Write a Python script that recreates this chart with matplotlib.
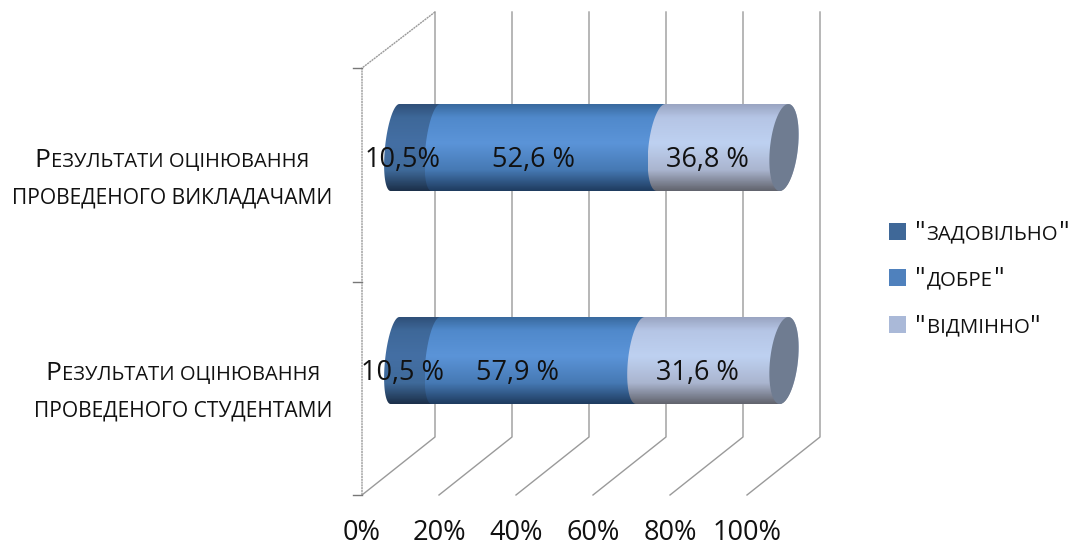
#!/usr/bin/env python3
# -*- coding: utf-8 -*-
import matplotlib
matplotlib.use('Agg')
import matplotlib.pyplot as plt
import numpy as np
from matplotlib.colors import LinearSegmentedColormap
from matplotlib.patches import PathPatch, Rectangle
from matplotlib.path import Path

plt.rcParams['font.family'] = ['Open Sans', 'DejaVu Sans']

# Data (bar lengths as drawn, labels as printed - they are swapped in the original)
ticks = [0, 20, 40, 60, 80, 100]
tick_labels = ["0%", "20%", "40%", "60%", "80%", "100%"]
series_names = ['ЗАДОВІЛЬНО', 'ДОБРЕ', 'ВІДМІННО']
top_values = [10.5, 57.9, 31.6]
bottom_values = [10.5, 52.6, 36.8]
top_labels = ["10,5%", "52,6 %", "36,8 %"]
bottom_labels = ["10,5 %", "57,9 %", "31,6 %"]

# Layout, everything below is in image pixels
W, H = 1073, 547
X0, PX = 362, 3.85
DEPTH_X, FLOOR_Y, BACK_FLOOR_Y, FRONT_TOP, BACK_TOP = 73, 495, 437, 68, 12
GRID = '#9a9a9a'

seg_stops = [
    ['#2f5079', '#3e6899', '#446fa4', '#3f6a9a', '#1c304a'],
    ['#396a9f', '#5089cb', '#5b94d8', '#4679b4', '#1f3c60'],
    ['#9aa5c2', '#b5c5e5', '#bed1f1', '#aab5cf', '#62646e'],
]
stop_pos = [0, 0.15, 0.45, 0.76, 1]
cap_color = '#6f7c91'
legend_colors = ['#3f6898', '#4f81bd', '#aab9d8']


def X(px):
    return (px - X0) / PX


fig = plt.figure(figsize=(W / 100, H / 100), dpi=100)
ax = fig.add_axes([0, 0, 1, 1])
ax.axis('off')

# walls and floor lines
for t in ticks:
    xb = X0 + DEPTH_X + t * PX
    xf = X0 + t * PX
    ax.plot([X(xb), X(xb), X(xf)], [BACK_TOP, BACK_FLOOR_Y, FLOOR_Y], color=GRID, lw=1, zorder=1)
ax.plot([X(X0 + DEPTH_X), X(X0), X(X0)], [BACK_TOP, FRONT_TOP, FLOOR_Y], color=GRID, lw=1, ls=(0, (1.5, 0.5)), zorder=1)
for y in [FRONT_TOP, 282, FLOOR_Y]:
    ax.plot([X(X0 - 9), X(X0)], [y, y], color='#777777', lw=1, zorder=1)


def arc_points(v, cy, half, start, stop):
    # sheared ellipse outline at percent v of the cylinder
    cx = 395 + 3.89 * v
    a = 10 + 0.04 * v
    t = np.linspace(start, stop, 60)
    yy = cy + half * np.sin(t)
    xx = cx + a * np.cos(t) - 0.1 * (yy - cy)
    return xx, yy


def draw_cylinder(values, cy, half=43.5):
    edges = np.cumsum([0] + values)
    edges[-1] = 100
    for i in range(3):
        # left edge runs bottom to top, right edge top to bottom
        lx, ly = arc_points(edges[i], cy, half, np.pi / 2, 3 * np.pi / 2)
        rx, ry = arc_points(edges[i + 1], cy, half, -np.pi / 2, np.pi / 2)
        xs = np.r_[lx, rx]
        ys = np.r_[ly, ry]
        verts = np.c_[X(xs), ys]
        patch = PathPatch(Path(np.r_[verts, verts[:1]]), fc='none', ec='none', zorder=3 + i)
        ax.add_patch(patch)
        cmap = LinearSegmentedColormap.from_list('s%d' % i, list(zip(stop_pos, seg_stops[i])))
        im = ax.imshow(np.linspace(0, 1, 120).reshape(-1, 1), cmap=cmap, aspect='auto', vmin=0, vmax=1,
                       extent=[X(xs.min()), X(xs.max()), cy + half, cy - half], zorder=3 + i)
        im.set_clip_path(patch)
    # end cap
    cx, cyy = arc_points(100, cy, half, 0, 2 * np.pi)
    ax.fill(X(cx), cyy, color=cap_color, ec='none', zorder=7)


draw_cylinder(top_values, 147.5)
draw_cylinder(bottom_values, 360.5)

ax.set_xlim(X(0), X(W))
ax.set_ylim(H, 0)

# labels on the bars
for txt, px in zip(top_labels, [403, 534, 707]):
    ax.text(X(px), 160, txt, ha='center', va='center', fontsize=19.5, color='#111111', zorder=10)
for txt, px in zip(bottom_labels, [403, 518, 697]):
    ax.text(X(px), 373, txt, ha='center', va='center', fontsize=19.5, color='#111111', zorder=10)

# x axis labels
for t, lab in zip(ticks, tick_labels):
    ax.text(t, 533, lab, ha='center', va='center', fontsize=19.5, color='#111111')

fig.canvas.draw()
renderer = fig.canvas.get_renderer()


def smallcaps(px, base, pieces):
    # text pieces of mixed size on one baseline
    for s, size in pieces:
        t = ax.text(X(px), base, s, fontsize=size, ha='left', va='baseline', color='#111111')
        px += t.get_window_extent(renderer).width + 1


BIG = 19
smallcaps(34, 167, [('Р', BIG), ('ЕЗУЛЬТАТИ ОЦІНЮВАННЯ', 14.5)])
smallcaps(12, 204, [('ПРОВЕДЕНОГО ВИКЛАДАЧАМИ', 15.1)])
smallcaps(45, 380, [('Р', BIG), ('ЕЗУЛЬТАТИ ОЦІНЮВАННЯ', 14.5)])
smallcaps(34, 416.5, [('ПРОВЕДЕНОГО СТУДЕНТАМИ', 15.1)])

# legend
for name, col, ytop in zip(series_names, legend_colors, [223, 269, 316]):
    ax.add_patch(Rectangle((X(889), ytop), 17 / PX, 17, fc=col, ec='none'))
    smallcaps(915, ytop + 16.5, [('"', BIG), (name, 14.7), ('"', BIG)])

fig.savefig('out.png', dpi=100)
